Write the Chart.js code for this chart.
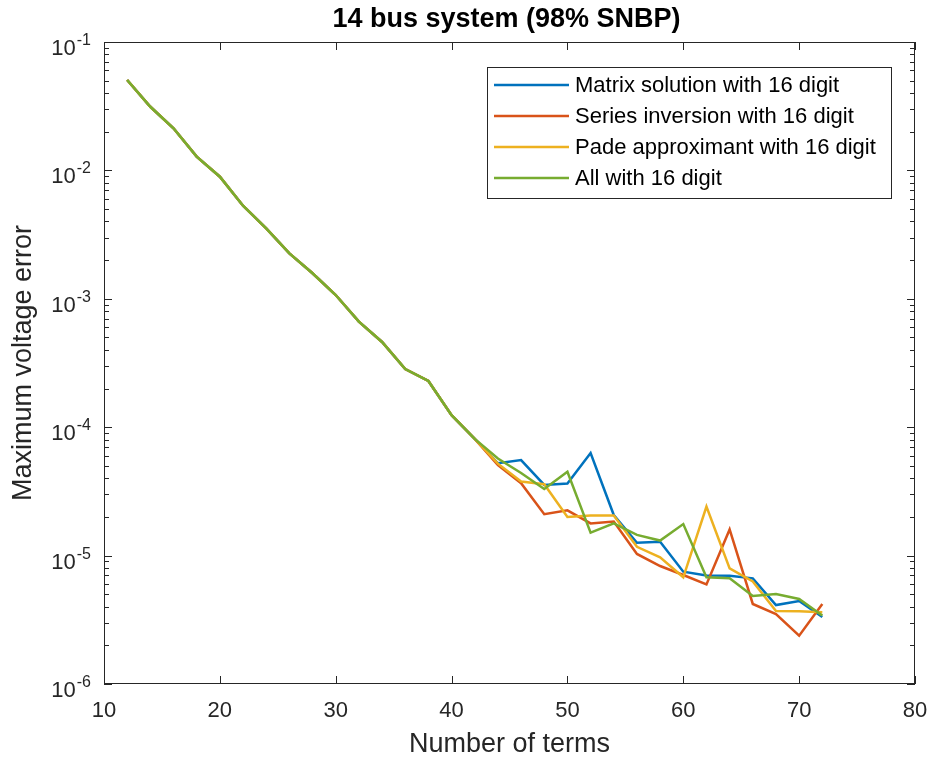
<!DOCTYPE html>
<html>
<head>
<meta charset="utf-8">
<script src="https://cdn.jsdelivr.net/npm/chart.js@4/dist/chart.umd.min.js"></script>
<style>
  html, body { margin: 0; padding: 0; background: #fff; }
  #chart { display: block; }
</style>
</head>
<body>
<canvas id="chart" width="930" height="760"></canvas>
<script>
'use strict';

// number of terms (x)
const terms = [12, 14, 16, 18, 20, 22, 24, 26, 28, 30, 32, 34, 36, 38, 40, 42,
               44, 46, 48, 50, 52, 54, 56, 58, 60, 62, 64, 66, 68, 70, 72];

// shared part of all curves, 12..42 terms
const common = [0.0506, 0.0313, 0.0213, 0.0128, 0.00893, 0.00531, 0.00354, 0.00226,
                0.00158, 0.00107, 0.000664, 0.000461, 0.000284, 0.000229, 0.000124, 8.1e-5];

// 44..72 terms
const matrixTail = [5.24e-5, 5.55e-5, 3.55e-5, 3.64e-5, 6.3e-5, 2.07e-5, 1.26e-5, 1.28e-5,
                    7.5e-6, 7.0e-6, 6.97e-6, 6.65e-6, 4.12e-6, 4.43e-6, 3.32e-6];
const seriesTail = [5.08e-5, 3.66e-5, 2.1e-5, 2.25e-5, 1.78e-5, 1.84e-5, 1.03e-5, 8.3e-6,
                    7.06e-6, 5.97e-6, 1.6e-5, 4.2e-6, 3.51e-6, 2.38e-6, 4.2e-6];
const padeTail   = [5.2e-5, 3.77e-5, 3.6e-5, 2.0e-5, 2.05e-5, 2.05e-5, 1.17e-5, 9.7e-6,
                    6.78e-6, 2.41e-5, 7.96e-6, 6.3e-6, 3.7e-6, 3.68e-6, 3.62e-6];
const allTail    = [5.7e-5, 4.4e-5, 3.3e-5, 4.5e-5, 1.51e-5, 1.78e-5, 1.45e-5, 1.31e-5,
                    1.76e-5, 6.78e-6, 6.65e-6, 4.84e-6, 5.02e-6, 4.59e-6, 3.42e-6];

const seriesNames = ['Matrix solution with 16 digit', 'Series inversion with 16 digit',
                     'Pade approximant with 16 digit', 'All with 16 digit'];
const seriesColors = ['#0072BD', '#D95319', '#EDB120', '#77AC30'];

const xTicks = [10, 20, 30, 40, 50, 60, 70, 80];
const yExponents = [-6, -5, -4, -3, -2, -1];

const chartTitle = '14 bus system (98% SNBP)';
const xLabel = 'Number of terms';
const yLabel = 'Maximum voltage error';

const FONT = '"Liberation Sans", Arial, sans-serif';
const AXIS_COLOR = '#262626';

const tails = [matrixTail, seriesTail, padeTail, allTail];
const datasets = tails.map((tail, i) => ({
    label: seriesNames[i],
    data: common.concat(tail).map((v, k) => ({ x: terms[k], y: v })),
    borderColor: seriesColors[i],
    borderWidth: 2.5,
    pointRadius: 0,
    tension: 0,
    fill: false,
    order: 3 - i   // last series drawn on top, like MATLAB
}));

// MATLAB-like box, inward ticks, superscript labels, legend and titles
const matlabAxes = {
    id: 'matlabAxes',
    beforeDraw(chart) {
        const ctx = chart.ctx;
        ctx.save();
        ctx.fillStyle = '#fff';
        ctx.fillRect(0, 0, chart.width, chart.height);
        ctx.restore();
    },
    afterDraw(chart) {
        const ctx = chart.ctx;
        const a = chart.chartArea;
        const xs = chart.scales.x;
        const ys = chart.scales.y;
        ctx.save();

        // box
        ctx.strokeStyle = AXIS_COLOR;
        ctx.lineWidth = 1;
        ctx.strokeRect(a.left + 0.5, a.top + 0.5, a.right - a.left - 1, a.bottom - a.top - 1);

        // x ticks (bottom + top)
        ctx.beginPath();
        xTicks.forEach(t => {
            const px = Math.round(xs.getPixelForValue(t)) + 0.5;
            ctx.moveTo(px, a.bottom); ctx.lineTo(px, a.bottom - 8);
            ctx.moveTo(px, a.top); ctx.lineTo(px, a.top + 8);
        });
        // y ticks, major + minor (left + right)
        yExponents.forEach(e => {
            for (let m = 1; m <= 9; m++) {
                const v = m * Math.pow(10, e);
                if (v > ys.max * 1.0001) continue;
                const py = Math.round(ys.getPixelForValue(v)) + 0.5;
                const len = m === 1 ? 8 : 5;
                ctx.moveTo(a.left, py); ctx.lineTo(a.left + len, py);
                ctx.moveTo(a.right, py); ctx.lineTo(a.right - len, py);
            }
        });
        ctx.stroke();

        // x tick labels
        ctx.fillStyle = AXIS_COLOR;
        ctx.font = '22px ' + FONT;
        ctx.textAlign = 'center';
        ctx.textBaseline = 'middle';
        xTicks.forEach(t => {
            ctx.fillText(String(t), xs.getPixelForValue(t), a.bottom + 27);
        });

        // y tick labels 10^e
        yExponents.forEach(e => {
            const py = ys.getPixelForValue(Math.pow(10, e));
            const right = a.left - 13;
            ctx.font = '16px ' + FONT;
            ctx.textAlign = 'right';
            ctx.textBaseline = 'alphabetic';
            const expText = '-' + Math.abs(e);
            ctx.fillText(expText, right, py + 3);
            const expW = ctx.measureText(expText).width;
            ctx.font = '22px ' + FONT;
            ctx.fillText('10', right - expW - 1, py + 13);
        });

        // title
        const cx = (a.left + a.right) / 2;
        ctx.textAlign = 'center';
        ctx.textBaseline = 'middle';
        ctx.font = 'bold 27px ' + FONT;
        ctx.fillStyle = '#000';
        ctx.fillText(chartTitle, cx - 3, 20);

        // axis labels
        ctx.font = '27px ' + FONT;
        ctx.fillStyle = AXIS_COLOR;
        ctx.fillText(xLabel, cx, a.bottom + 61);
        ctx.save();
        ctx.translate(24, (a.top + a.bottom) / 2);
        ctx.rotate(-Math.PI / 2);
        ctx.fillText(yLabel, 0, 0);
        ctx.restore();

        // legend
        const lx = 487, ly = 67, lw = 404, lh = 131;
        ctx.fillStyle = '#fff';
        ctx.fillRect(lx, ly, lw, lh);
        ctx.strokeStyle = AXIS_COLOR;
        ctx.lineWidth = 1;
        ctx.strokeRect(lx + 0.5, ly + 0.5, lw, lh);
        ctx.font = '22px ' + FONT;
        ctx.textAlign = 'left';
        ctx.textBaseline = 'middle';
        seriesNames.forEach((name, i) => {
            const y = ly + 18 + i * 31;
            ctx.strokeStyle = seriesColors[i];
            ctx.lineWidth = 2.5;
            ctx.beginPath();
            ctx.moveTo(494, y); ctx.lineTo(569, y);
            ctx.stroke();
            ctx.fillStyle = '#000';
            ctx.fillText(name, 575, y + 1);
        });

        ctx.restore();
    }
};

new Chart(document.getElementById('chart'), {
    type: 'line',
    data: { datasets },
    options: {
        responsive: false,
        animation: false,
        devicePixelRatio: 1,
        layout: { padding: { left: 104, top: 42, right: 15, bottom: 76 } },
        plugins: {
            legend: { display: false },
            tooltip: { enabled: false },
            title: { display: false }
        },
        scales: {
            x: { type: 'linear', min: 10, max: 80, display: false },
            y: { type: 'logarithmic', min: 1e-6, max: 1e-1, display: false }
        }
    },
    plugins: [matlabAxes]
});
</script>
</body>
</html>
